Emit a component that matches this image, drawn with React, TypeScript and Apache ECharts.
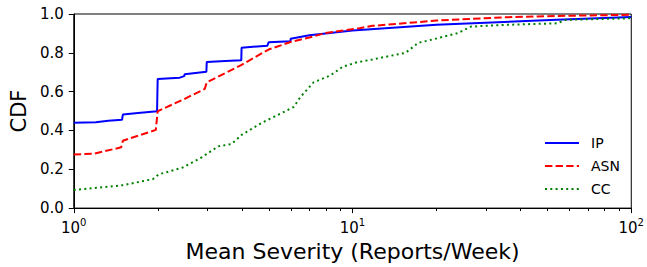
import React, { useEffect, useRef } from "react";
import * as echarts from "echarts";

const ipX = [1, 1.2, 1.33, 1.49, 1.5, 1.7, 1.99, 2, 2.4, 2.49, 2.5, 2.99, 3, 3.5, 3.99, 4, 4.95, 5, 5.99, 6, 7, 8, 10, 20, 54, 100];
const ipY = [0.44, 0.442, 0.45, 0.455, 0.482, 0.49, 0.499, 0.665, 0.672, 0.68, 0.689, 0.702, 0.753, 0.758, 0.762, 0.826, 0.837, 0.854, 0.86, 0.873, 0.89, 0.9, 0.915, 0.944, 0.97, 0.985];

const asnX = [1, 1.18, 1.48, 1.5, 1.97, 2, 2.5, 2.95, 3, 4, 5, 6, 7, 8, 10.6, 11.8, 20, 35, 60, 100];
const asnY = [0.276, 0.28, 0.313, 0.347, 0.403, 0.499, 0.563, 0.614, 0.648, 0.738, 0.817, 0.856, 0.879, 0.902, 0.927, 0.939, 0.966, 0.983, 0.991, 0.996];

const ccX = [1, 1.18, 1.5, 1.92, 2.02, 2.45, 2.88, 3.3, 3.68, 4, 4.69, 5.38, 6.15, 6.5, 7.25, 8.3, 9.22, 10.3, 11.8, 15.5, 17.2, 20.3, 23.9, 26.6, 35, 54, 58.5, 100];
const ccY = [0.093, 0.103, 0.118, 0.149, 0.174, 0.208, 0.262, 0.318, 0.33, 0.377, 0.437, 0.479, 0.521, 0.572, 0.648, 0.682, 0.728, 0.75, 0.766, 0.8, 0.851, 0.876, 0.902, 0.935, 0.944, 0.952, 0.97, 0.978];

const minorTicks = [2, 3, 4, 5, 6, 7, 8, 9, 20, 30, 40, 50, 60, 70, 80, 90];

const FONT = "DejaVu Sans";

function pairs(xs: number[], ys: number[]) {
  return xs.map((x, i) => [x, ys[i]]);
}

export default function App() {
  const ref = useRef<HTMLDivElement>(null);
  useEffect(() => {
    if (!ref.current) return;
    const chart = echarts.init(ref.current, null, { renderer: "svg" });
    const exp: Record<number, string> = { 1: "0", 10: "1", 100: "2" };
    chart.setOption({
      animation: false,
      backgroundColor: "#fff",
      textStyle: { fontFamily: FONT },
      grid: {
        left: 70,
        top: 14,
        width: 566,
        height: 197,
        show: true,
        borderColor: "#000",
        borderWidth: 1,
        backgroundColor: "transparent",
      },
      legend: {
        orient: "vertical",
        left: 544,
        top: 136,
        padding: 0,
        itemWidth: 34,
        itemHeight: 14,
        itemGap: 9,
        itemStyle: { opacity: 0 },
        textStyle: { fontFamily: FONT, fontSize: 14, color: "#000", padding: [0, 0, 0, 7] },
        data: ["IP", "ASN", "CC"],
      },
      xAxis: {
        type: "log",
        logBase: 10,
        min: 1,
        max: 100,
        name: "Mean Severity (Reports/Week)",
        nameLocation: "middle",
        nameGap: 31,
        nameTextStyle: { fontFamily: FONT, fontSize: 22, color: "#000" },
        axisLine: { show: true, lineStyle: { color: "#000", width: 1 } },
        axisTick: { show: true, length: 5, inside: false, lineStyle: { color: "#000" } },
        splitLine: { show: false },
        axisLabel: {
          margin: 9,
          color: "#000",
          formatter: (v: number) => {
            const e = exp[Math.round(v)];
            return e === undefined ? "" : `{b|10}{s|${e}}`;
          },
          rich: {
            b: { fontFamily: FONT, fontSize: 15, color: "#000", lineHeight: 18, verticalAlign: "bottom" },
            s: { fontFamily: FONT, fontSize: 10, color: "#000", lineHeight: 18, verticalAlign: "top", padding: [0, 0, 7, 0] },
          },
        },
      },
      yAxis: {
        type: "value",
        min: 0,
        max: 1,
        interval: 0.2,
        name: "CDF",
        nameLocation: "middle",
        nameGap: 42,
        nameTextStyle: { fontFamily: FONT, fontSize: 21, color: "#000" },
        axisLine: { show: true, lineStyle: { color: "#000", width: 1 } },
        axisTick: { show: true, length: 5, lineStyle: { color: "#000" } },
        splitLine: { show: false },
        axisLabel: {
          margin: 10,
          color: "#000",
          fontFamily: FONT,
          fontSize: 15,
          formatter: (v: number) => v.toFixed(1),
        },
      },
      series: [
        {
          name: "IP",
          type: "line",
          data: pairs(ipX, ipY),
          symbol: "none",
          color: "#0000ff",
          lineStyle: { color: "#0000ff", width: 2 },
        },
        {
          name: "ASN",
          type: "line",
          data: pairs(asnX, asnY),
          symbol: "none",
          color: "#ff0000",
          lineStyle: { color: "#ff0000", width: 2, type: [7.4, 3.2] },
        },
        {
          name: "CC",
          type: "line",
          data: pairs(ccX, ccY),
          symbol: "none",
          color: "#008000",
          lineStyle: { color: "#008000", width: 2, type: [2, 3.3] },
        },
      ],
    });
    // minor ticks on the log axis, placed through the axis' own scale
    const y0 = Math.round(chart.convertToPixel({ yAxisIndex: 0 }, 0) as number);
    const minorEls = minorTicks.map((v) => {
      const px = Math.round(chart.convertToPixel({ xAxisIndex: 0 }, v) as number) + 0.5;
      return {
        type: "line",
        silent: true,
        z: 10,
        shape: { x1: px, y1: y0, x2: px, y2: y0 + 3 },
        style: { stroke: "#000", lineWidth: 1 },
      };
    });
    chart.setOption({ graphic: { elements: minorEls } });
    return () => chart.dispose();
  }, []);
  return (
    <div
      ref={ref}
      style={{ position: "fixed", left: 0, top: 0, width: 647, height: 267, background: "#fff" }}
    />
  );
}
